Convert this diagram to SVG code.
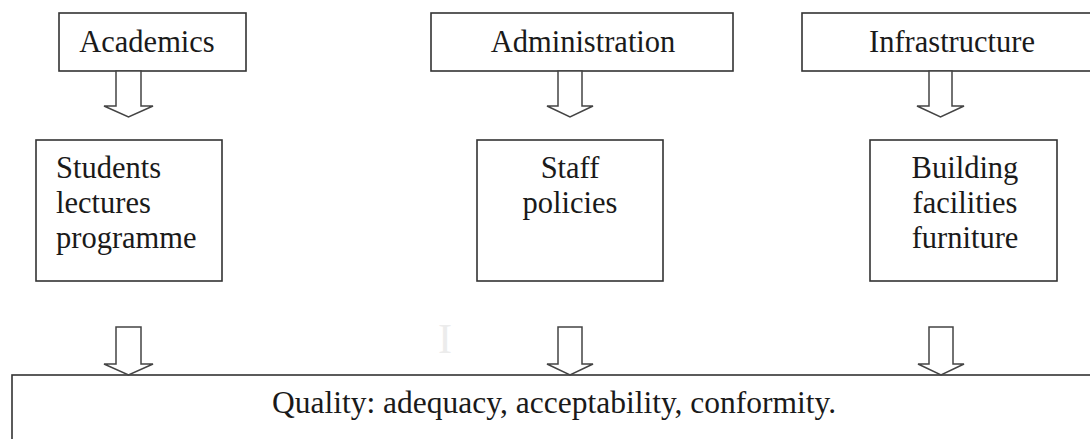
<svg xmlns="http://www.w3.org/2000/svg" width="1090" height="439" viewBox="0 0 1090 439">
  <style>
    .box { fill: #ffffff; stroke: #333333; stroke-width: 1.6; }
    .arrow { fill: #ffffff; stroke: #444444; stroke-width: 1.5; stroke-linejoin: miter; }
    .label { font-family: "Liberation Serif", "Times New Roman", serif; font-size: 30.5px; fill: #1a1a1a; }
    .wide { font-size: 31.5px; }
    .mid { text-anchor: middle; }
    .ghost { font-family: "Liberation Serif", serif; font-size: 42px; fill: #ececec; text-anchor: middle; }
  </style>
  <rect width="1090" height="439" fill="#ffffff"/>

  <!-- top row: categories -->
  <g id="academics">
    <rect class="box" x="59" y="13" width="187" height="58"/>
    <text class="label mid" x="147" y="52">Academics</text>
  </g>
  <g id="administration">
    <rect class="box" x="431" y="13" width="302" height="58"/>
    <text class="label mid" x="583" y="52">Administration</text>
  </g>
  <g id="infrastructure">
    <rect class="box" x="802" y="13" width="300" height="58"/>
    <text class="label mid" x="952" y="52">Infrastructure</text>
  </g>

  <!-- middle row: components -->
  <g id="students">
    <rect class="box" x="36" y="140" width="186" height="141"/>
    <text class="label" x="56" y="178">Students</text>
    <text class="label" x="56" y="213">lectures</text>
    <text class="label" x="56" y="248">programme</text>
  </g>
  <g id="staff">
    <rect class="box" x="477" y="140" width="186" height="141"/>
    <text class="label mid" x="570" y="178">Staff</text>
    <text class="label mid" x="570" y="213">policies</text>
  </g>
  <g id="building">
    <rect class="box" x="870" y="140" width="187" height="141"/>
    <text class="label mid" x="965" y="178">Building</text>
    <text class="label mid" x="965" y="213">facilities</text>
    <text class="label mid" x="965" y="248">furniture</text>
  </g>

  <!-- bottom: outcome -->
  <g id="quality">
    <rect class="box" x="12" y="375" width="1100" height="90"/>
    <text class="label wide" x="272" y="413">Quality: adequacy, acceptability, conformity.</text>
  </g>

  <text class="ghost" x="445" y="353">I</text>

  <!-- block arrows -->
  <g id="connectors">
    <polygon class="arrow" points="116,71 141,71 141,106 153,106 128.5,117 104,106 116,106"/>
    <polygon class="arrow" points="558,71 582,71 582,106 593,106 570,117 547,106 558,106"/>
    <polygon class="arrow" points="929,71 952,71 952,106 964,106 940.5,117 917,106 929,106"/>
    <polygon class="arrow" points="116,327 141,327 141,364 153,364 128.5,375 104,364 116,364"/>
    <polygon class="arrow" points="558,327 582,327 582,364 593,364 570,375 547,364 558,364"/>
    <polygon class="arrow" points="929,327 953,327 953,364 964,364 941,375 918,364 929,364"/>
  </g>
</svg>
